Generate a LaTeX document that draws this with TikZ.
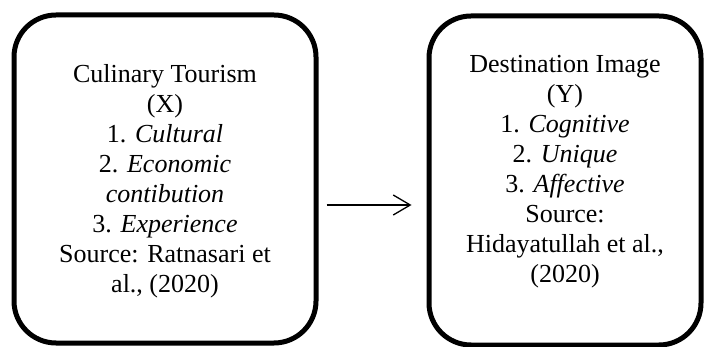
\documentclass[tikz,border=0pt]{standalone}
\usepackage{fontspec}
\setmainfont{Liberation Serif}
\usetikzlibrary{arrows.meta}
\begin{document}
\begin{tikzpicture}[x=1pt,y=-1pt,
  varbox/.style={draw=black, line width=5pt, rounded corners=42pt, inner sep=0pt},
  vartext/.style={align=center, inner sep=0pt, font=\fontsize{26}{30}\selectfont},
  link/.style={line width=1.3pt, -{Straight Barb[length=17pt,width=20pt]}}]
\useasboundingbox (0,0) rectangle (704,347);
\node[varbox, minimum width=302pt, minimum height=328pt] (L) at (165,179) {};
\node[vartext] (Lt) at ([yshift=-2pt]L.center)
  {Culinary Tourism\\(X)\\1. \textit{Cultural}\\2. \textit{Economic}\\\textit{contibution}\\3. \textit{Experience}\\Source: Ratnasari et\\al., (2020)};
\node[varbox, minimum width=272pt, minimum height=329pt] (R) at (565,180.5) {};
\node[vartext] (Rt) at ([yshift=9pt]R.center)
  {Destination Image\\(Y)\\1. \textit{Cognitive}\\2. \textit{Unique}\\3. \textit{Affective}\\Source:\\Hidayatullah et al.,\\(2020)};
\draw[link, shorten <=8pt, shorten >=15pt] ([yshift=-26pt]L.east) -- ([yshift=-24.5pt]R.west);
\end{tikzpicture}
\end{document}
